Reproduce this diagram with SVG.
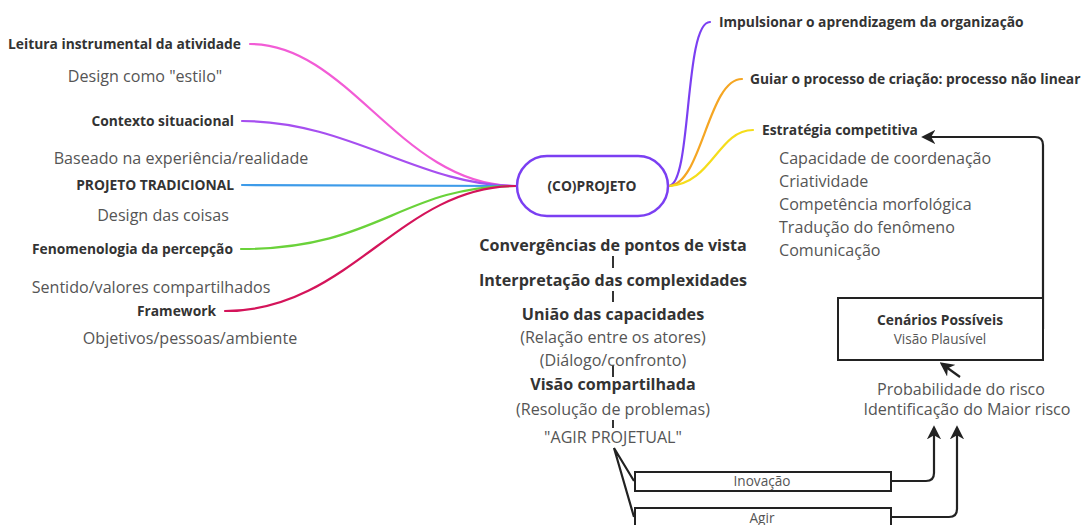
<svg xmlns="http://www.w3.org/2000/svg" width="1081" height="525" viewBox="0 0 1081 525">
<style>
.b{font-family:"Open Sans","Liberation Sans",sans-serif;font-weight:700;font-size:13.8px;fill:#333}
.bb{font-family:"Open Sans","Liberation Sans",sans-serif;font-weight:700;font-size:16.1px;fill:#333}
.r{font-family:"Open Sans","Liberation Sans",sans-serif;font-size:16.1px;fill:#555}
.s{font-family:"Open Sans","Liberation Sans",sans-serif;font-size:13.6px;fill:#555}
.c{fill:none;stroke-width:2.2;stroke-linecap:round}
.k{fill:none;stroke:#222;stroke-width:2.2}
.t{fill:none;stroke:#333;stroke-width:2}
.box{fill:#fff;stroke:#222;stroke-width:2}
</style>
<defs>
<marker id="ah" viewBox="0 0 10 10" refX="8" refY="5" markerWidth="6.5" markerHeight="6.5" orient="auto-start-reverse" markerUnits="strokeWidth">
<path d="M0,0 L10,5 L0,10 L3,5 z" fill="#222"/>
</marker>
</defs>
<rect width="1081" height="525" fill="#fff"/>
<g id="connectors">
<path class="c" stroke="#f25cd6" d="M250,44 C350,44 400,186 516,186"/>
<path class="c" stroke="#a64ff0" d="M242,121 C350,121 420,186 516,186"/>
<path class="c" stroke="#3d9be9" d="M242,185 L516,186"/>
<path class="c" stroke="#6ad23a" d="M241,249 C380,249 400,186 516,186"/>
<path class="c" stroke="#d4145a" d="M225,311 C350,311 400,186 516,186"/>
<path class="c" stroke="#7b3ff2" d="M669,186 C692,184 684,22 710,22"/>
<path class="c" stroke="#f5a623" d="M669,186 C702,184 708,79 742,79"/>
<path class="c" stroke="#f5dd1a" d="M669,186 C712,184 718,130 753,130"/>
<path class="t" d="M613,256 V268 M613,291 V302 M613,365 V377 M613,420 V428"/>
<path class="k" d="M634,481 L614,448 L634,517"/>
<path class="k" marker-end="url(#ah)" d="M1043,329 V145 Q1043,137 1035,137 H924"/>
<path class="k" marker-end="url(#ah)" d="M960,377 L942,364"/>
<path class="k" marker-end="url(#ah)" d="M891,481 H926 Q934,481 934,473 V428"/>
<path class="k" marker-end="url(#ah)" d="M891,517 H949 Q957,517 957,509 V428"/>
</g>
<g id="left-labels">
<text class="b" x="241" y="49" text-anchor="end">Leitura instrumental da atividade</text>
<text class="r" x="145" y="82" text-anchor="middle">Design como "estilo"</text>
<text class="b" x="234" y="126" text-anchor="end">Contexto situacional</text>
<text class="r" x="181" y="164" text-anchor="middle">Baseado na experiência/realidade</text>
<text class="b" x="234" y="190" text-anchor="end">PROJETO TRADICIONAL</text>
<text class="r" x="163" y="221" text-anchor="middle">Design das coisas</text>
<text class="b" x="233" y="254" text-anchor="end">Fenomenologia da percepção</text>
<text class="r" x="151" y="293" text-anchor="middle">Sentido/valores compartilhados</text>
<text class="b" x="216" y="316" text-anchor="end">Framework</text>
<text class="r" x="190" y="344" text-anchor="middle">Objetivos/pessoas/ambiente</text>
</g>
<g id="center-node">
<rect x="517" y="156" width="151" height="60" rx="30" fill="#fff" stroke="#7b3ff2" stroke-width="2.5"/>
<text class="b" x="592" y="191" text-anchor="middle">(CO)PROJETO</text>
</g>
<g id="center-column">
<text class="bb" x="613" y="251" text-anchor="middle">Convergências de pontos de vista</text>
<text class="bb" x="613" y="286" text-anchor="middle">Interpretação das complexidades</text>
<text class="bb" x="613" y="320" text-anchor="middle">União das capacidades</text>
<text class="r" x="613" y="343" text-anchor="middle">(Relação entre os atores)</text>
<text class="r" x="613" y="366" text-anchor="middle">(Diálogo/confronto)</text>
<text class="bb" x="613" y="390" text-anchor="middle">Visão compartilhada</text>
<text class="r" x="613" y="415" text-anchor="middle">(Resolução de problemas)</text>
<text class="r" x="613" y="443" text-anchor="middle">"AGIR PROJETUAL"</text>
</g>
<g id="right-labels">
<text class="b" x="719" y="27">Impulsionar o aprendizagem da organização</text>
<text class="b" x="750" y="84">Guiar o processo de criação: processo não linear</text>
<text class="b" x="762" y="135">Estratégia competitiva</text>
<text class="r" x="779" y="164">Capacidade de coordenação</text>
<text class="r" x="779" y="187">Criatividade</text>
<text class="r" x="779" y="210">Competência morfológica</text>
<text class="r" x="779" y="233">Tradução do fenômeno</text>
<text class="r" x="779" y="256">Comunicação</text>
</g>
<g id="cenarios">
<rect class="box" x="838" y="298" width="205" height="62"/>
<text class="b" x="940" y="325" text-anchor="middle">Cenários Possíveis</text>
<text class="s" x="940" y="344" text-anchor="middle">Visão Plausível</text>
</g>
<g id="risco">
<text class="r" x="961" y="395" text-anchor="middle">Probabilidade do risco</text>
<text class="r" x="967" y="415" text-anchor="middle">Identificação do Maior risco</text>
</g>
<g id="inovacao">
<rect class="box" x="635" y="472" width="256" height="19"/>
<text class="s" x="762" y="486" text-anchor="middle">Inovação</text>
</g>
<g id="agir">
<rect class="box" x="635" y="508" width="256" height="30"/>
<text class="s" x="762" y="523" text-anchor="middle">Agir</text>
</g>
</svg>
